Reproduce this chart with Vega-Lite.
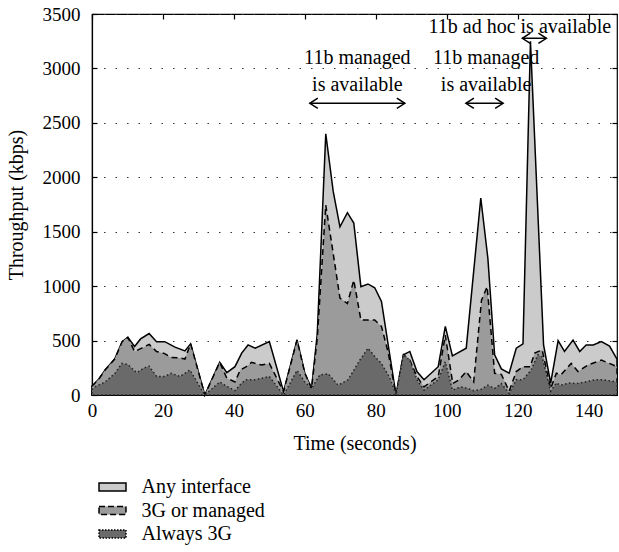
{
  "$schema": "https://vega.github.io/schema/vega-lite/v6.json",
  "width": 525,
  "height": 381,
  "autosize": "none",
  "padding": {"left": 92, "top": 14, "right": 2, "bottom": 157},
  "background": "white",
  "config": {
    "font": "Liberation Serif",
    "view": {"stroke": "black", "strokeWidth": 1.2},
    "axis": {
      "labelFont": "Liberation Serif",
      "titleFont": "Liberation Serif",
      "labelFontSize": 19,
      "titleFontSize": 20,
      "titleFontWeight": "normal",
      "labelColor": "black",
      "titleColor": "black",
      "domainColor": "black",
      "tickColor": "black",
      "tickSize": -5,
      "tickWidth": 1.2,
      "domainWidth": 1.2,
      "labelFlush": false,
      "format": "d"
    }
  },
  "datasets": {
    "series": [
      {"s": "any", "t": 0, "v": 80}, {"s": "any", "t": 2, "v": 150}, {"s": "any", "t": 3.7, "v": 230}, {"s": "any", "t": 6.4, "v": 330}, {"s": "any", "t": 8.5, "v": 490}, {"s": "any", "t": 10.1, "v": 530}, {"s": "any", "t": 12, "v": 445}, {"s": "any", "t": 13.7, "v": 515}, {"s": "any", "t": 16.1, "v": 565}, {"s": "any", "t": 18.2, "v": 490}, {"s": "any", "t": 20.5, "v": 490}, {"s": "any", "t": 23.4, "v": 440}, {"s": "any", "t": 26.2, "v": 405}, {"s": "any", "t": 27.8, "v": 470}, {"s": "any", "t": 31.8, "v": 0}, {"s": "any", "t": 36, "v": 300}, {"s": "any", "t": 38, "v": 205}, {"s": "any", "t": 40.3, "v": 260}, {"s": "any", "t": 42.2, "v": 385}, {"s": "any", "t": 44, "v": 460}, {"s": "any", "t": 46, "v": 430}, {"s": "any", "t": 50, "v": 490}, {"s": "any", "t": 54, "v": 30}, {"s": "any", "t": 57.8, "v": 505}, {"s": "any", "t": 60, "v": 200}, {"s": "any", "t": 61.9, "v": 60}, {"s": "any", "t": 63.5, "v": 560}, {"s": "any", "t": 65.9, "v": 2400}, {"s": "any", "t": 68, "v": 1870}, {"s": "any", "t": 69.9, "v": 1545}, {"s": "any", "t": 72, "v": 1675}, {"s": "any", "t": 73.8, "v": 1580}, {"s": "any", "t": 75.8, "v": 995}, {"s": "any", "t": 77.8, "v": 1020}, {"s": "any", "t": 79.7, "v": 985}, {"s": "any", "t": 81.6, "v": 860}, {"s": "any", "t": 83.5, "v": 460}, {"s": "any", "t": 85.7, "v": 0}, {"s": "any", "t": 87.8, "v": 370}, {"s": "any", "t": 89.6, "v": 400}, {"s": "any", "t": 91.6, "v": 215}, {"s": "any", "t": 93.6, "v": 140}, {"s": "any", "t": 97.6, "v": 260}, {"s": "any", "t": 99.6, "v": 630}, {"s": "any", "t": 101.6, "v": 360}, {"s": "any", "t": 105.5, "v": 430}, {"s": "any", "t": 109.6, "v": 1810}, {"s": "any", "t": 111.6, "v": 1255}, {"s": "any", "t": 113.5, "v": 370}, {"s": "any", "t": 115.4, "v": 240}, {"s": "any", "t": 117.6, "v": 200}, {"s": "any", "t": 119.6, "v": 430}, {"s": "any", "t": 121.5, "v": 470}, {"s": "any", "t": 123.6, "v": 3250}, {"s": "any", "t": 127.3, "v": 460}, {"s": "any", "t": 129.3, "v": 110}, {"s": "any", "t": 131.4, "v": 500}, {"s": "any", "t": 133.2, "v": 400}, {"s": "any", "t": 135.6, "v": 505}, {"s": "any", "t": 137.5, "v": 400}, {"s": "any", "t": 139.3, "v": 460}, {"s": "any", "t": 141.3, "v": 460}, {"s": "any", "t": 143.6, "v": 490}, {"s": "any", "t": 145.9, "v": 450}, {"s": "any", "t": 148, "v": 330},
      {"s": "mgd", "t": 0, "v": 80}, {"s": "mgd", "t": 2, "v": 150}, {"s": "mgd", "t": 3.7, "v": 230}, {"s": "mgd", "t": 6.4, "v": 330}, {"s": "mgd", "t": 8.5, "v": 490}, {"s": "mgd", "t": 10.1, "v": 530}, {"s": "mgd", "t": 12, "v": 400}, {"s": "mgd", "t": 14, "v": 430}, {"s": "mgd", "t": 16.1, "v": 465}, {"s": "mgd", "t": 18.2, "v": 400}, {"s": "mgd", "t": 20.5, "v": 380}, {"s": "mgd", "t": 22.3, "v": 345}, {"s": "mgd", "t": 24.8, "v": 340}, {"s": "mgd", "t": 26.2, "v": 330}, {"s": "mgd", "t": 27.8, "v": 470}, {"s": "mgd", "t": 31.8, "v": 0}, {"s": "mgd", "t": 36, "v": 300}, {"s": "mgd", "t": 38, "v": 155}, {"s": "mgd", "t": 40.3, "v": 120}, {"s": "mgd", "t": 41.8, "v": 230}, {"s": "mgd", "t": 43.5, "v": 260}, {"s": "mgd", "t": 45, "v": 300}, {"s": "mgd", "t": 47.8, "v": 275}, {"s": "mgd", "t": 50, "v": 290}, {"s": "mgd", "t": 54, "v": 30}, {"s": "mgd", "t": 57.8, "v": 505}, {"s": "mgd", "t": 60, "v": 200}, {"s": "mgd", "t": 61.9, "v": 60}, {"s": "mgd", "t": 63.5, "v": 520}, {"s": "mgd", "t": 65.9, "v": 1745}, {"s": "mgd", "t": 68, "v": 1300}, {"s": "mgd", "t": 69.9, "v": 890}, {"s": "mgd", "t": 72, "v": 840}, {"s": "mgd", "t": 73.8, "v": 1055}, {"s": "mgd", "t": 75.8, "v": 690}, {"s": "mgd", "t": 79.7, "v": 690}, {"s": "mgd", "t": 81.6, "v": 630}, {"s": "mgd", "t": 83.5, "v": 390}, {"s": "mgd", "t": 85.7, "v": 0}, {"s": "mgd", "t": 87.8, "v": 370}, {"s": "mgd", "t": 89.6, "v": 320}, {"s": "mgd", "t": 91.6, "v": 170}, {"s": "mgd", "t": 93.6, "v": 75}, {"s": "mgd", "t": 97.6, "v": 170}, {"s": "mgd", "t": 99.6, "v": 550}, {"s": "mgd", "t": 101.7, "v": 105}, {"s": "mgd", "t": 103.5, "v": 140}, {"s": "mgd", "t": 105.5, "v": 215}, {"s": "mgd", "t": 107.6, "v": 120}, {"s": "mgd", "t": 109.8, "v": 870}, {"s": "mgd", "t": 111.4, "v": 995}, {"s": "mgd", "t": 113.5, "v": 200}, {"s": "mgd", "t": 115.4, "v": 190}, {"s": "mgd", "t": 117.6, "v": 35}, {"s": "mgd", "t": 119.6, "v": 215}, {"s": "mgd", "t": 121.5, "v": 260}, {"s": "mgd", "t": 123.5, "v": 260}, {"s": "mgd", "t": 124.8, "v": 385}, {"s": "mgd", "t": 126.9, "v": 415}, {"s": "mgd", "t": 129.3, "v": 60}, {"s": "mgd", "t": 130.9, "v": 200}, {"s": "mgd", "t": 132.2, "v": 185}, {"s": "mgd", "t": 135.1, "v": 290}, {"s": "mgd", "t": 137, "v": 215}, {"s": "mgd", "t": 139.8, "v": 275}, {"s": "mgd", "t": 143.6, "v": 320}, {"s": "mgd", "t": 145.9, "v": 290}, {"s": "mgd", "t": 148, "v": 260},
      {"s": "g3", "t": 0, "v": 50}, {"s": "g3", "t": 0.8, "v": 75}, {"s": "g3", "t": 3.7, "v": 120}, {"s": "g3", "t": 6.5, "v": 200}, {"s": "g3", "t": 8.4, "v": 290}, {"s": "g3", "t": 10.1, "v": 280}, {"s": "g3", "t": 12.6, "v": 205}, {"s": "g3", "t": 14.5, "v": 245}, {"s": "g3", "t": 16.1, "v": 265}, {"s": "g3", "t": 18.2, "v": 170}, {"s": "g3", "t": 20.5, "v": 170}, {"s": "g3", "t": 22.3, "v": 200}, {"s": "g3", "t": 24.8, "v": 170}, {"s": "g3", "t": 27.6, "v": 230}, {"s": "g3", "t": 31.8, "v": 0}, {"s": "g3", "t": 36, "v": 120}, {"s": "g3", "t": 38, "v": 80}, {"s": "g3", "t": 40.3, "v": 40}, {"s": "g3", "t": 42.2, "v": 110}, {"s": "g3", "t": 43.5, "v": 140}, {"s": "g3", "t": 46, "v": 140}, {"s": "g3", "t": 50, "v": 170}, {"s": "g3", "t": 54, "v": 0}, {"s": "g3", "t": 57.8, "v": 225}, {"s": "g3", "t": 60, "v": 120}, {"s": "g3", "t": 61.9, "v": 60}, {"s": "g3", "t": 64.2, "v": 185}, {"s": "g3", "t": 66.6, "v": 195}, {"s": "g3", "t": 69.4, "v": 90}, {"s": "g3", "t": 72.2, "v": 140}, {"s": "g3", "t": 75.5, "v": 320}, {"s": "g3", "t": 77.8, "v": 430}, {"s": "g3", "t": 80.2, "v": 335}, {"s": "g3", "t": 81.6, "v": 290}, {"s": "g3", "t": 84, "v": 155}, {"s": "g3", "t": 85.7, "v": 0}, {"s": "g3", "t": 87.8, "v": 370}, {"s": "g3", "t": 89.6, "v": 320}, {"s": "g3", "t": 91.6, "v": 140}, {"s": "g3", "t": 93.6, "v": 45}, {"s": "g3", "t": 97.6, "v": 140}, {"s": "g3", "t": 99.6, "v": 305}, {"s": "g3", "t": 101.6, "v": 45}, {"s": "g3", "t": 104, "v": 75}, {"s": "g3", "t": 106, "v": 60}, {"s": "g3", "t": 107.6, "v": 40}, {"s": "g3", "t": 109.6, "v": 50}, {"s": "g3", "t": 111.6, "v": 90}, {"s": "g3", "t": 113.5, "v": 60}, {"s": "g3", "t": 115.4, "v": 105}, {"s": "g3", "t": 117.6, "v": 15}, {"s": "g3", "t": 119.6, "v": 140}, {"s": "g3", "t": 121.5, "v": 140}, {"s": "g3", "t": 123.8, "v": 230}, {"s": "g3", "t": 125.7, "v": 370}, {"s": "g3", "t": 126.9, "v": 350}, {"s": "g3", "t": 129.3, "v": 35}, {"s": "g3", "t": 130.9, "v": 110}, {"s": "g3", "t": 132, "v": 90}, {"s": "g3", "t": 134.5, "v": 110}, {"s": "g3", "t": 136.7, "v": 105}, {"s": "g3", "t": 139, "v": 120}, {"s": "g3", "t": 141.8, "v": 140}, {"s": "g3", "t": 144, "v": 140}, {"s": "g3", "t": 148, "v": 120}
    ],
    "notes": [
      {"t": 74.8, "v": 3094, "label": "11b managed"},
      {"t": 74.8, "v": 2848, "label": "is available"},
      {"t": 111.1, "v": 3094, "label": "11b managed"},
      {"t": 111.1, "v": 2848, "label": "is available"},
      {"t": 120.6, "v": 3383, "label": "11b ad hoc is available"}
    ],
    "arrows": [
      {"t1": 61.4, "t2": 88.2, "v": 2680},
      {"t1": 105.4, "t2": 115.9, "v": 2680},
      {"t1": 121.3, "t2": 128.1, "v": 3277}
    ]
  },
  "layer": [
    {
      "data": {"name": "series"},
      "transform": [{"filter": "datum.s === 'any'"}],
      "mark": {"type": "area", "stroke": "black", "strokeWidth": 1.5, "interpolate": "linear"},
      "encoding": {
        "x": {"field": "t", "type": "quantitative", "scale": {"domain": [0, 148], "nice": false},
          "axis": {"title": "Time (seconds)", "values": [0, 20, 40, 60, 80, 100, 120, 140], "grid": false, "labelPadding": 11, "titlePadding": 13}},
        "y": {"field": "v", "type": "quantitative", "scale": {"domain": [0, 3500], "nice": false},
          "axis": {"title": "Throughput (kbps)", "values": [0, 500, 1000, 1500, 2000, 2500, 3000, 3500], "grid": true, "gridDash": [1.5, 10], "gridColor": "#333", "gridWidth": 1.2, "labelPadding": 17, "titlePadding": 16}},
        "fill": {"field": "s", "type": "nominal",
          "scale": {"domain": ["any", "mgd", "g3"], "range": ["#cbcbcb", "#9b9b9b", "#6a6a6a"]},
          "legend": {"orient": "none", "legendX": 10.5, "legendY": 463, "title": null, "direction": "vertical",
            "labelExpr": "datum.value === 'any' ? 'Any interface' : datum.value === 'mgd' ? '3G or managed' : 'Always 3G'",
            "labelFont": "Liberation Serif", "labelFontSize": 20, "labelColor": "black", "labelOffset": 19,
            "symbolType": "M-2,-0.6H2V0.6H-2Z", "symbolSize": 182, "symbolStrokeColor": "black", "symbolStrokeWidth": 1.5, "rowPadding": 3.5,
            "encode": {"symbols": {"update": {"stroke": {"value": "black"}, "strokeWidth": {"value": 1.5},
              "strokeDash": {"signal": "datum.value === 'mgd' ? [6, 3] : datum.value === 'g3' ? [1.5, 1.5] : [1, 0]"}}}}}}
      }
    },
    {
      "data": {"name": "series"},
      "transform": [{"filter": "datum.s === 'mgd'"}],
      "mark": {"type": "area", "stroke": "black", "strokeWidth": 1.5, "strokeDash": [6, 4], "interpolate": "linear"},
      "encoding": {
        "x": {"field": "t", "type": "quantitative", "axis": null},
        "y": {"field": "v", "type": "quantitative", "axis": null},
        "fill": {"field": "s", "type": "nominal"}
      }
    },
    {
      "data": {"name": "series"},
      "transform": [{"filter": "datum.s === 'g3'"}],
      "mark": {"type": "area", "stroke": "#222", "strokeWidth": 1.5, "strokeDash": [1.5, 2.5], "interpolate": "linear"},
      "encoding": {
        "x": {"field": "t", "type": "quantitative", "axis": null},
        "y": {"field": "v", "type": "quantitative", "axis": null},
        "fill": {"field": "s", "type": "nominal"}
      }
    },
    {
      "data": {"name": "series"},
      "mark": {"type": "point", "opacity": 0},
      "encoding": {
        "x": {"field": "t", "type": "quantitative",
          "axis": {"orient": "top", "title": null, "labels": false, "domain": false, "values": [0, 20, 40, 60, 80, 100, 120, 140]}},
        "y": {"field": "v", "type": "quantitative",
          "axis": {"orient": "right", "title": null, "labels": false, "domain": false, "grid": false, "values": [0, 500, 1000, 1500, 2000, 2500, 3000, 3500]}}
      }
    },
    {
      "data": {"name": "arrows"},
      "mark": {"type": "rule", "stroke": "black", "strokeWidth": 1.5},
      "encoding": {
        "x": {"field": "t1", "type": "quantitative", "axis": null},
        "x2": {"field": "t2"},
        "y": {"field": "v", "type": "quantitative", "axis": null}
      }
    },
    {
      "data": {"name": "arrows"},
      "mark": {"type": "point", "shape": "M1,-0.65L0,0L1,0.65", "filled": false, "stroke": "black", "strokeWidth": 1.5, "size": 256, "opacity": 1},
      "encoding": {
        "x": {"field": "t1", "type": "quantitative", "axis": null},
        "y": {"field": "v", "type": "quantitative", "axis": null}
      }
    },
    {
      "data": {"name": "arrows"},
      "mark": {"type": "point", "shape": "M-1,-0.65L0,0L-1,0.65", "filled": false, "stroke": "black", "strokeWidth": 1.5, "size": 256, "opacity": 1},
      "encoding": {
        "x": {"field": "t2", "type": "quantitative", "axis": null},
        "y": {"field": "v", "type": "quantitative", "axis": null}
      }
    },
    {
      "data": {"name": "notes"},
      "mark": {"type": "text", "font": "Liberation Serif", "fontSize": 20, "color": "black", "align": "center", "baseline": "middle"},
      "encoding": {
        "x": {"field": "t", "type": "quantitative", "axis": null},
        "y": {"field": "v", "type": "quantitative", "axis": null},
        "text": {"field": "label"}
      }
    }
  ],
  "resolve": {"axis": {"x": "independent", "y": "independent"}}
}
